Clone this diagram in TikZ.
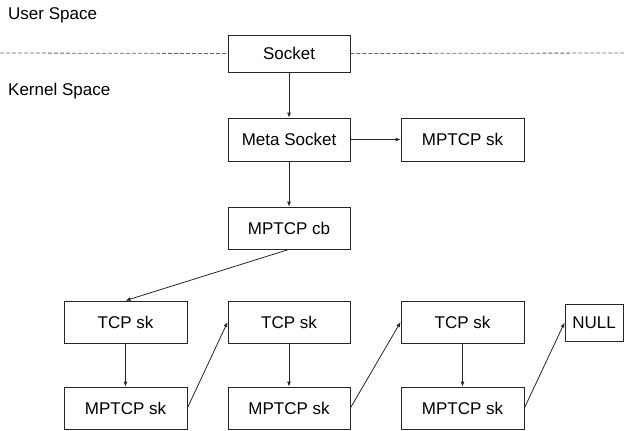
\documentclass[tikz,border=0pt]{standalone}
\usepackage{fontspec}
\setmainfont{Liberation Sans}
\usetikzlibrary{arrows.meta}
\begin{document}
\begin{tikzpicture}[x=1pt,y=-1pt,
  box/.style={draw=black!85,line width=0.8pt,rectangle,inner sep=0pt,minimum width=122pt,minimum height=42pt,font=\fontsize{17}{20}\selectfont},
  lbl/.style={anchor=west,inner sep=0pt,font=\fontsize{17}{20}\selectfont},
  conn/.style={draw=black!85,line width=0.8pt,-{Latex[length=5pt,width=4pt]}},
  sep/.style={draw=black!60,line width=0.8pt,dash pattern=on 4pt off 2pt}]
\useasboundingbox (0,0) rectangle (624,431);
\node[lbl] (us) at (8,15) {User Space};
\node[lbl] (ks) at (8,91) {Kernel Space};
\node[box,minimum height=37pt] (sock) at (289,53.5) {Socket};
\coordinate (dl) at (0,53);
\coordinate (dr) at (624,53);
\draw[sep] (dl) -- (sock.west);
\draw[sep] (sock.east) -- (dr);
\node[box,minimum height=43pt] (meta) at (289,139.5) {Meta Socket};
\node[box,minimum height=43pt,minimum width=123pt] (msk) at (462.5,139.5) {MPTCP sk};
\node[box] (cb) at (289,228) {MPTCP cb};
\node[box,minimum width=123pt] (t1) at (125.5,322) {TCP sk};
\node[box,minimum width=123pt] (m1) at (125.5,408) {MPTCP sk};
\node[box] (t2) at (289,322) {TCP sk};
\node[box] (m2) at (289,408) {MPTCP sk};
\node[box,minimum width=123pt] (t3) at (462.5,322) {TCP sk};
\node[box,minimum width=123pt] (m3) at (462.5,408) {MPTCP sk};
\node[box,minimum width=58pt,minimum height=37pt] (null) at (594,322.5) {NULL};
\draw[conn] (sock) -- (meta);
\draw[conn] (meta) -- (msk);
\draw[conn] (meta) -- (cb);
\draw[conn] (cb.south) -- (t1.north);
\draw[conn] (t1) -- (m1);
\draw[conn] (m1.east) -- (t2.west);
\draw[conn] (t2) -- (m2);
\draw[conn] (m2.east) -- (t3.west);
\draw[conn] (t3) -- (m3);
\draw[conn] (m3.east) -- (null.west);
\end{tikzpicture}
\end{document}
